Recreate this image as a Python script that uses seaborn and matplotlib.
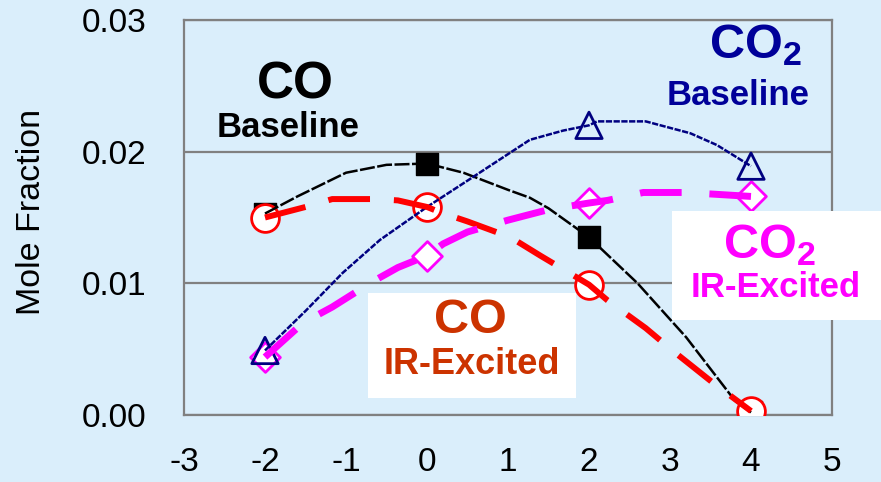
import numpy as np
import pandas as pd
import matplotlib
matplotlib.use("Agg")
import matplotlib.pyplot as plt
from matplotlib.patches import Rectangle
import seaborn as sns

# marker positions
marker_x = [-2, 0, 2, 4]
co_base_markers = [0.0153, 0.0191, 0.0135, 0.0002]
co2_base_marker_x = [-2, 2, 4]
co2_base_markers = [0.0049, 0.0220, 0.0189]
co_ir_markers = [0.0150, 0.0158, 0.0099, 0.0003]
co2_ir_markers = [0.0044, 0.0121, 0.0161, 0.0166]

# curves
co_base_x = [-2, -1.6, -1.0, -0.5, 0, 0.45, 1.0, 1.27, 1.5, 2.0, 2.6, 3.2, 3.8, 4.0]
co_base_y = [0.0153, 0.0166, 0.0184, 0.0190, 0.0191, 0.0184, 0.0171, 0.0165, 0.0157, 0.0135,
             0.0100, 0.0059, 0.0011, 0.0002]

co2_base_x = [-2, -1.5, -1.04, -0.58, 0, 0.5, 1.27, 1.68, 2.0, 2.1, 2.7, 3.25, 3.58, 4.0]
co2_base_y = [0.0049, 0.0079, 0.0108, 0.0133, 0.0158, 0.0178, 0.0209, 0.0216, 0.0220, 0.0223,
              0.0223, 0.0214, 0.0205, 0.0189]

co_ir_x = [-2, -1.5, -1.17, -0.65, -0.36, 0, 0.16, 0.5, 1.03, 1.4, 2.0, 2.23, 2.7, 3.03, 3.52, 4.0]
co_ir_y = [0.0150, 0.0158, 0.0164, 0.0164, 0.0163, 0.0158, 0.0154, 0.0147, 0.0135, 0.0121,
           0.0099, 0.0087, 0.0066, 0.0049, 0.0025, 0.0003]

co2_ir_x = [-2, -1.53, -1.17, -0.68, -0.36, 0, 0.2, 0.5, 1.0, 1.5, 2.0, 2.23, 2.67, 3.2, 4.0]
co2_ir_y = [0.0044, 0.0070, 0.0082, 0.0101, 0.0112, 0.0121, 0.0130, 0.0139, 0.0148, 0.0156,
            0.0161, 0.0163, 0.0169, 0.0169, 0.0166]

x_ticks = [-3, -2, -1, 0, 1, 2, 3, 4, 5]
y_ticks = [0.00, 0.01, 0.02, 0.03]
y_tick_labels = ["0.00", "0.01", "0.02", "0.03"]

bg = "#DAEEFB"
grey = "#808080"

sns.set_style("white")
plt.rcParams["font.family"] = ["Liberation Sans", "DejaVu Sans"]
plt.rcParams["mathtext.default"] = "regular"
plt.rcParams["text.color"] = "black"

fig = plt.figure(figsize=(8.81, 4.82), dpi=100, facecolor=bg)
ax = fig.add_axes([184 / 881, 1 - 415 / 482, 648 / 881, 395 / 482])
ax.set_facecolor(bg)

for s in ax.spines.values():
    s.set_color(grey)
    s.set_linewidth(1.6)

ax.set_xlim(-3, 5)
ax.set_ylim(0, 0.03)
ax.set_xticks(x_ticks)
ax.set_xticklabels([str(t) for t in x_ticks])
ax.set_yticks(y_ticks)
ax.set_yticklabels(y_tick_labels)
ax.tick_params(axis="x", direction="in", length=5, width=1.6, color=grey, labelsize=24,
               labelcolor="black", pad=23)
ax.tick_params(axis="y", length=0, labelsize=24, labelcolor="black", pad=27)
ax.yaxis.grid(True, color=grey, linewidth=1.6)
ax.xaxis.grid(False)
ax.set_axisbelow(True)
ax.set_xlabel("")
ax.set_ylabel("")
fig.text(32 / 881, 1 - 212 / 482, "Mole Fraction", rotation=90, ha="center", va="center",
         fontsize=24.5, color="black")

# markers
sns.scatterplot(x=marker_x, y=co_base_markers, marker="s", s=250, color="black",
                edgecolor="black", linewidth=1, ax=ax, zorder=3.0)
sns.scatterplot(x=marker_x, y=co_ir_markers, marker="o", s=400, color="white",
                edgecolor="#FF0000", linewidth=2, ax=ax, zorder=3.1)
sns.scatterplot(x=marker_x, y=co2_ir_markers, marker="D", s=230, color="white",
                edgecolor="#FF00FF", linewidth=2, ax=ax, zorder=3.2)
sns.scatterplot(x=co2_base_marker_x, y=co2_base_markers, marker="^", s=360, facecolor="none",
                edgecolor="#000080", linewidth=2, ax=ax, zorder=3.3)

# lines
sns.lineplot(x=co_base_x, y=co_base_y, sort=False, estimator=None, color="black",
             linewidth=1.8, linestyle=(0, (6, 1)), ax=ax, zorder=4)
sns.lineplot(x=co2_base_x, y=co2_base_y, sort=False, estimator=None, color="#000080",
             linewidth=1.8, linestyle=(0, (2.5, 0.6)), ax=ax, zorder=4)
sns.lineplot(x=co_ir_x, y=co_ir_y, sort=False, estimator=None, color="#FF0000",
             linewidth=4.3, linestyle=(0, (7, 4)), ax=ax, zorder=4)
sns.lineplot(x=co2_ir_x, y=co2_ir_y, sort=False, estimator=None, color="#FF00FF",
             linewidth=5, linestyle=(0, (6, 4)), ax=ax, zorder=4)

# white boxes behind IR-Excited labels
ax.add_patch(Rectangle((-0.73, 0.00129), 2.57, 0.00797, facecolor="white", edgecolor="none",
                       clip_on=False, zorder=5))
ax.add_patch(Rectangle((3.02, 0.0072), 2.6, 0.0083, facecolor="white", edgecolor="none",
                       clip_on=False, zorder=5))

# labels
ax.text(-1.63, 0.0251, "CO", color="black", fontsize=37, fontweight="bold", ha="center", va="center", zorder=6)
ax.text(-1.72, 0.0218, "Baseline", color="black", fontsize=25, fontweight="bold", ha="center", va="center", zorder=6)
ax.text(4.05, 0.0281, "CO$_2$", color="#000099", fontsize=35, fontweight="bold", ha="center", va="center", zorder=6)
ax.text(3.84, 0.0243, "Baseline", color="#000099", fontsize=25, fontweight="bold", ha="center", va="center", zorder=6)
ax.text(0.53, 0.0072, "CO", color="#CC3300", fontsize=35, fontweight="bold", ha="center", va="center", zorder=6)
ax.text(0.56, 0.0038, "IR-Excited", color="#CC3300", fontsize=26, fontweight="bold", ha="center", va="center", zorder=6)
ax.text(4.23, 0.0129, "CO$_2$", color="#FF00FF", fontsize=35, fontweight="bold", ha="center", va="center",
        zorder=6, clip_on=False)
ax.text(4.30, 0.0097, "IR-Excited", color="#FF00FF", fontsize=25, fontweight="bold", ha="center", va="center",
        zorder=6, clip_on=False)

if ax.get_legend() is not None:
    ax.get_legend().remove()

fig.savefig("out.png", dpi=100, facecolor=bg)
